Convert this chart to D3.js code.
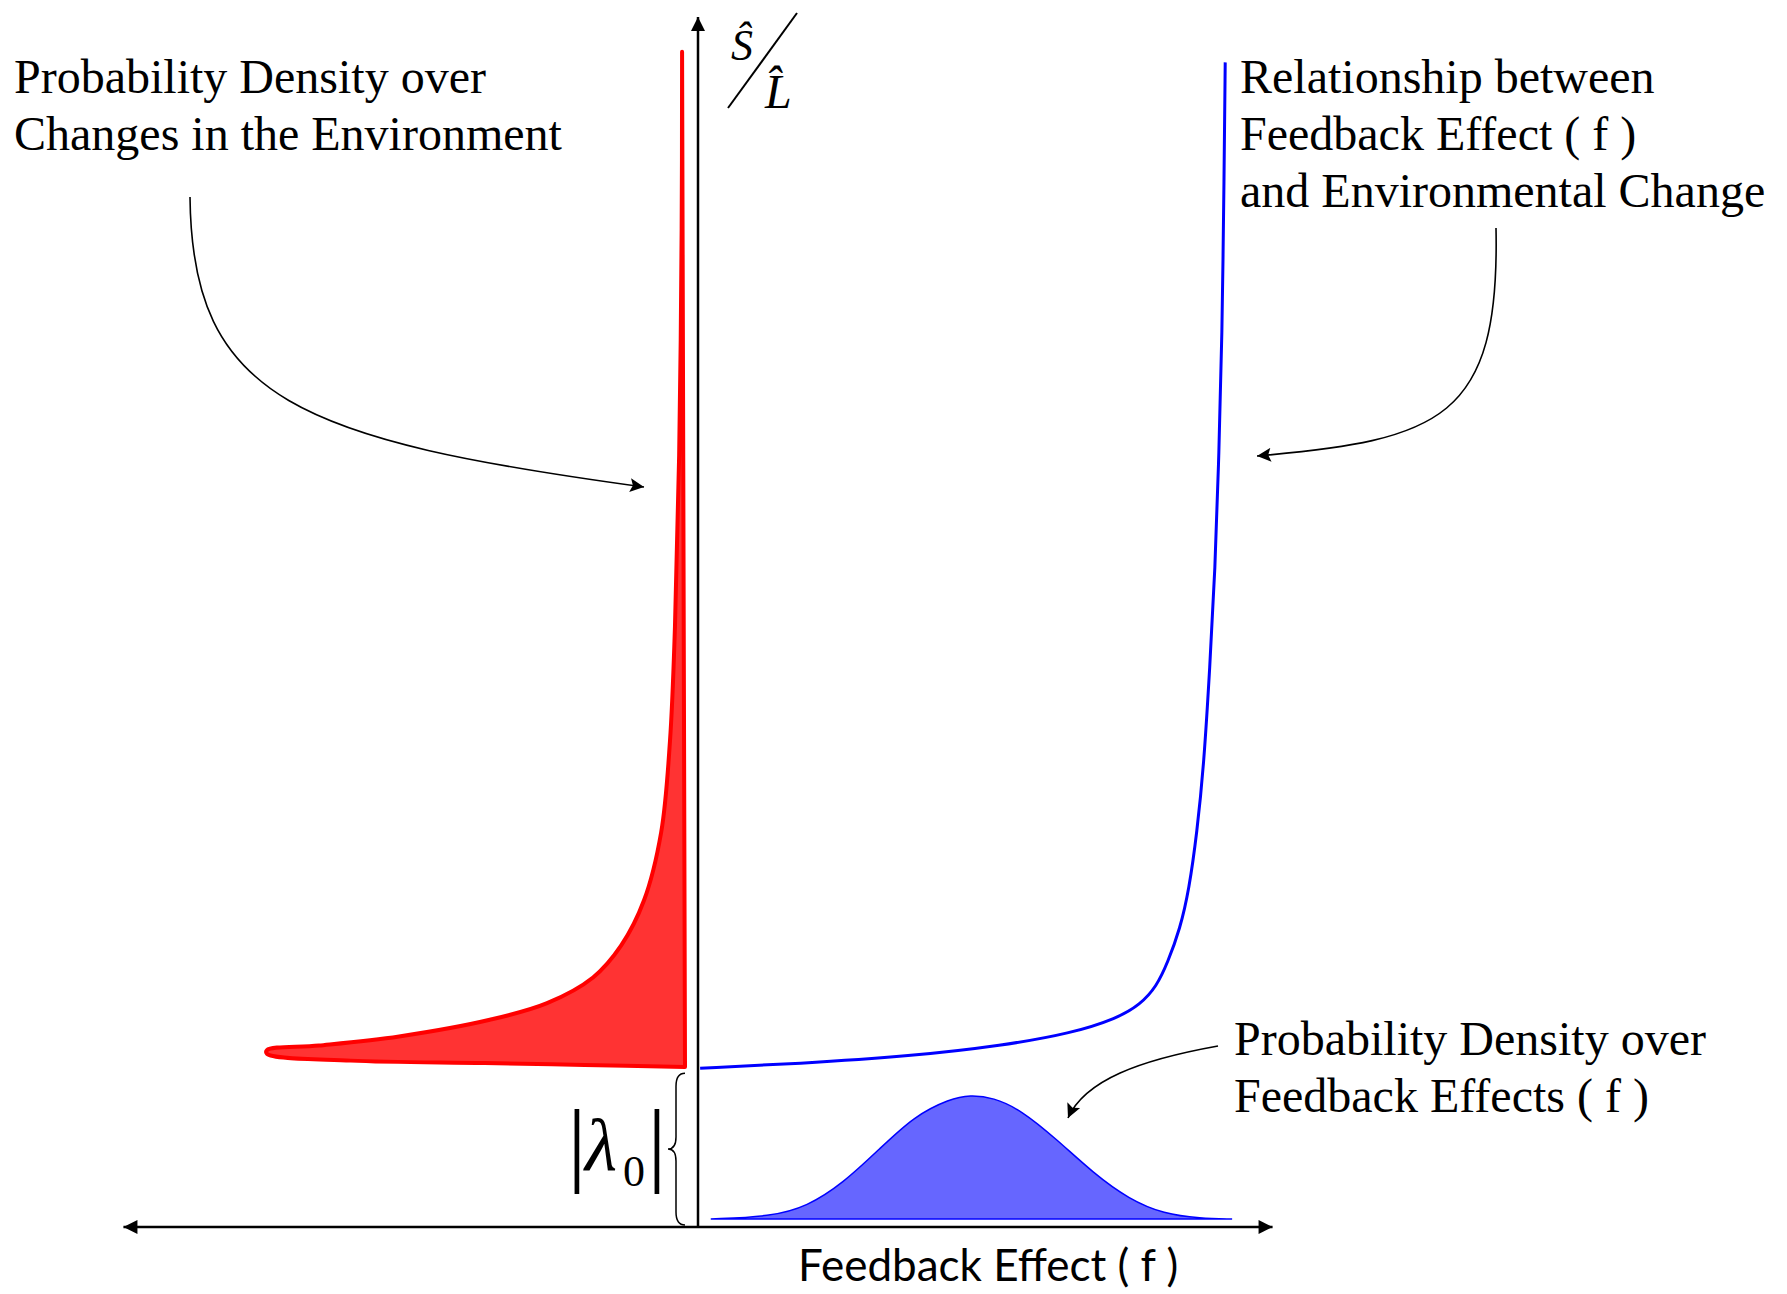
<!DOCTYPE html>
<html>
<head>
<meta charset="utf-8">
<script src="https://cdn.jsdelivr.net/npm/d3@7/dist/d3.min.js"></script>
<style>
body { margin: 0; background: #fff; }
</style>
</head>
<body>
<svg id="chart"></svg>
<script>
// S/L relationship against feedback effect f (blue curve)
var feedback = [0.004, 0.188, 0.402, 0.573, 0.701, 0.788, 0.831, 0.862, 0.883, 0.906, 0.923, 0.938, 0.951, 0.962, 0.972, 0.979, 0.985, 0.989, 0.991]
var ratio    = [1.05, 1.08, 1.13, 1.20, 1.28, 1.38, 1.47, 1.59, 1.75, 1.97, 2.23, 2.61, 3.06, 3.70, 4.34, 5.10, 5.85, 6.98, 7.70]

// density over environmental change (red, drawn sideways against the S/L axis)
var envDensity = [0.007, 0.008, 0.014, 0.024, 0.036, 0.057, 0.098, 0.153, 0.220, 0.330, 0.467, 0.684, 0.876, 1.0]
var envLevel   = [7.77, 6.60, 5.10, 3.97, 3.21, 2.61, 2.16, 1.86, 1.65, 1.48, 1.37, 1.26, 1.20, 1.17]
var envBaseDensity = [1.0, 0.80, 0.48, 0.24, 0]
var envBaseLevel   = [1.145, 1.10, 1.084, 1.071, 1.058]

// density over feedback effects (blue bump)
var gaussF = [0.024, 0.137, 0.205, 0.273, 0.340, 0.406, 0.474, 0.511, 0.555, 0.607, 0.675, 0.743, 0.810, 0.876, 0.944, 1.004]
var gaussD = [0, 0.02, 0.10, 0.29, 0.56, 0.83, 0.97, 1.0, 0.98, 0.88, 0.64, 0.37, 0.16, 0.04, 0.005, 0]

var lambda0 = 1.05
var axisF = [-1.08, 1.08]
var axisTop = 8

var dimensions = { width: 1787, height: 1294 }

var svg = d3.select("#chart")
            .attr("width", dimensions.width)
            .attr("height", dimensions.height)
            .style("background", "#fff")

var xScale = d3.scaleLinear().domain([-1, 1]).range([166, 1230])
var yScale = d3.scaleLinear().domain([0, 8]).range([1227, 17])
var densScale = d3.scaleLinear().domain([0, 1]).range([685, 267])
var gaussScale = d3.scaleLinear().domain([0, 1]).range([1219, 1095])

var defs = svg.append("defs")
defs.append("marker")
    .attr("id", "axisHead")
    .attr("viewBox", "0 0 10 10")
    .attr("refX", 10).attr("refY", 5)
    .attr("markerWidth", 16).attr("markerHeight", 14)
    .attr("markerUnits", "userSpaceOnUse")
    .attr("orient", "auto-start-reverse")
    .append("path").attr("d", "M0,0L10,5L0,10Z").attr("fill", "#000")
defs.append("marker")
    .attr("id", "noteHead")
    .attr("viewBox", "0 0 10 10")
    .attr("refX", 10).attr("refY", 5)
    .attr("markerWidth", 18).attr("markerHeight", 14)
    .attr("markerUnits", "userSpaceOnUse")
    .attr("orient", "auto")
    .append("path").attr("d", "M0,0L10,5L0,10L2,5Z").attr("fill", "#000")

// red density
var redPts = envDensity.map((d, i) => [densScale(d), yScale(envLevel[i])])
                .concat(envBaseDensity.map((d, i) => [densScale(d), yScale(envBaseLevel[i])]))
svg.append("path")
   .attr("d", d3.line().curve(d3.curveCatmullRom.alpha(0.5))(redPts) + "Z")
   .attr("fill", "#ff3333")
   .attr("stroke", "#ff0000")
   .attr("stroke-width", 4)
   .attr("stroke-linejoin", "round")

// blue relationship curve
svg.append("path")
   .datum(feedback.map((f, i) => ({ f: f, r: ratio[i] })))
   .attr("d", d3.line().x(d => xScale(d.f)).y(d => yScale(d.r)).curve(d3.curveBasis))
   .attr("fill", "none")
   .attr("stroke", "#0000ff")
   .attr("stroke-width", 3)

// blue density bump
svg.append("path")
   .datum(gaussF.map((f, i) => ({ f: f, g: gaussD[i] })))
   .attr("d", d3.area().x(d => xScale(d.f)).y0(gaussScale(0)).y1(d => gaussScale(d.g)).curve(d3.curveBasis))
   .attr("fill", "#6666ff")
   .attr("stroke", "#0000ff")
   .attr("stroke-width", 1.5)

// axes
svg.append("line")
   .attr("x1", xScale(axisF[0])).attr("x2", xScale(axisF[1]))
   .attr("y1", yScale(0)).attr("y2", yScale(0))
   .attr("stroke", "#000").attr("stroke-width", 2.5)
   .attr("marker-start", "url(#axisHead)")
   .attr("marker-end", "url(#axisHead)")
svg.append("line")
   .attr("x1", xScale(0)).attr("x2", xScale(0))
   .attr("y1", yScale(0)).attr("y2", yScale(axisTop))
   .attr("stroke", "#000").attr("stroke-width", 2.5)
   .attr("marker-end", "url(#axisHead)")

// brace for |lambda0|
var bx = xScale(0) - 13, bTop = yScale(lambda0) + 5, bBot = yScale(0) - 2, bMid = (bTop + bBot) / 2
svg.append("path")
   .attr("d", `M${bx},${bTop} Q${bx - 9},${bTop} ${bx - 9},${bTop + 13} L${bx - 9},${bMid - 12}
               Q${bx - 9},${bMid} ${bx - 17},${bMid} Q${bx - 9},${bMid} ${bx - 9},${bMid + 12}
               L${bx - 9},${bBot - 13} Q${bx - 9},${bBot} ${bx},${bBot}`)
   .attr("fill", "none").attr("stroke", "#000").attr("stroke-width", 1.5)

// |lambda0| label
var lam = svg.append("g").attr("font-family", "Liberation Serif, serif").attr("fill", "#000")
lam.append("text").attr("x", 577).attr("y", 1174).attr("font-size", 94).attr("text-anchor", "middle").text("|")
lam.append("text").attr("x", 657).attr("y", 1174).attr("font-size", 94).attr("text-anchor", "middle").text("|")
lam.append("text").attr("x", 585).attr("y", 1170).attr("font-size", 74).attr("font-style", "italic").text("λ")
lam.append("text").attr("x", 623).attr("y", 1186).attr("font-size", 44).text("0")

// annotation arrows
var notes = [
    "M190,197 C192,400 300,440 644,487",
    "M1496,228 C1500,420 1440,440 1257,456",
    "M1218,1046 C1140,1060 1085,1080 1068,1118"
]
svg.selectAll(".note")
   .data(notes)
   .enter()
   .append("path")
   .attr("class", "note")
   .attr("d", d => d)
   .attr("fill", "none")
   .attr("stroke", "#000")
   .attr("stroke-width", 1.6)
   .attr("marker-end", "url(#noteHead)")

// text blocks
var blocks = [
    { x: 14, y: 93, lines: ["Probability Density over", "Changes in the Environment"] },
    { x: 1240, y: 93, lines: ["Relationship between", "Feedback Effect ( f )", "and Environmental Change"] },
    { x: 1234, y: 1055, lines: ["Probability Density over", "Feedback Effects ( f )"] }
]
blocks.forEach(b => {
    var t = svg.append("text")
               .attr("font-family", "Liberation Serif, serif")
               .attr("font-size", 48)
               .attr("fill", "#000")
    b.lines.forEach((l, i) => {
        t.append("tspan").attr("x", b.x).attr("y", b.y + i * 57).text(l)
    })
})

svg.append("text")
   .attr("x", 798).attr("y", 1281)
   .attr("font-family", "Lato, sans-serif")
   .attr("font-size", 44)
   .attr("fill", "#000")
   .text("Feedback Effect ( f )")

// y axis label S-hat over L-hat
var yl = svg.append("g").attr("font-family", "Liberation Serif, serif").attr("font-style", "italic").attr("fill", "#000")
yl.append("text").attr("x", 731).attr("y", 60).attr("font-size", 44).text("Ŝ")
yl.append("text").attr("x", 765).attr("y", 108).attr("font-size", 48).text("L\u0302")
svg.append("line")
   .attr("x1", 728).attr("y1", 108).attr("x2", 797).attr("y2", 13)
   .attr("stroke", "#000").attr("stroke-width", 2)
</script>
</body>
</html>
